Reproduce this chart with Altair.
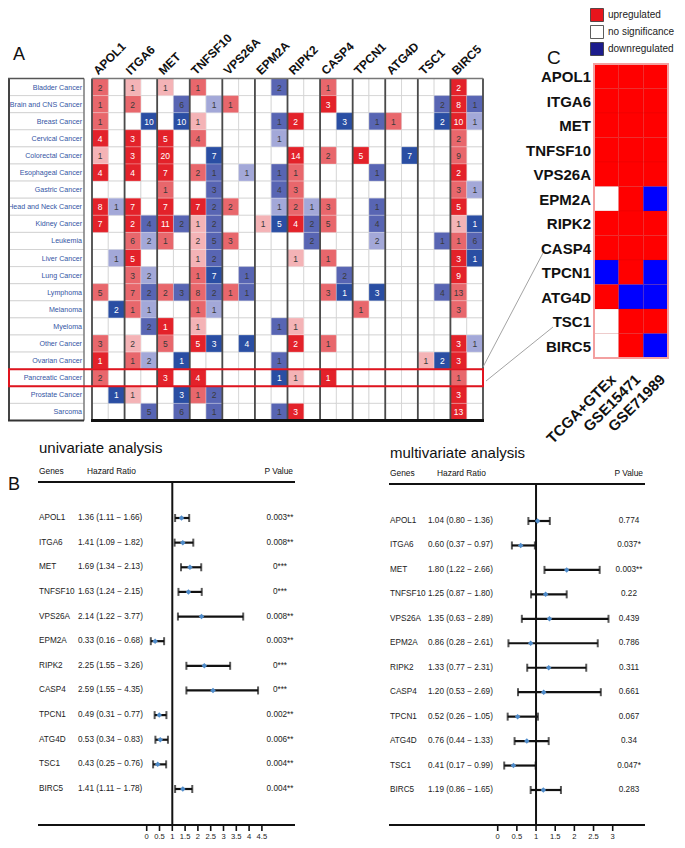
import altair as alt
import pandas as pd

# ---------------------------------------------------------------- data
cancer_types = ["Bladder Cancer", "Brain and CNS Cancer", "Breast Cancer", "Cervical Cancer",
                "Colorectal Cancer", "Esophageal Cancer", "Gastric Cancer", "Head and Neck Cancer",
                "Kidney Cancer", "Leukemia", "Liver Cancer", "Lung Cancer", "Lymphoma", "Melanoma",
                "Myeloma", "Other Cancer", "Ovarian Cancer", "Pancreatic Cancer", "Prostate Cancer",
                "Sarcoma"]
genes = ["APOL1", "ITGA6", "MET", "TNFSF10", "VPS26A", "EPM2A", "RIPK2", "CASP4",
         "TPCN1", "ATG4D", "TSC1", "BIRC5"]
highlight_cancer = "Pancreatic Cancer"

# Oncomine cells: gene, direction, number of analyses, rank shade (3 = top 1%, 2 = 5%, 1 = 10%)
oncomine_cells = {
    "Bladder Cancer": [("APOL1", "up", 2, 2), ("ITGA6", "up", 1, 1), ("MET", "up", 1, 1),
                       ("TNFSF10", "up", 1, 2), ("EPM2A", "down", 2, 2), ("CASP4", "up", 1, 2),
                       ("BIRC5", "up", 2, 3)],
    "Brain and CNS Cancer": [("APOL1", "up", 1, 2), ("ITGA6", "up", 2, 2), ("MET", "down", 6, 2),
                             ("TNFSF10", "down", 1, 1), ("VPS26A", "up", 1, 2), ("CASP4", "up", 3, 3),
                             ("TSC1", "down", 2, 2), ("BIRC5", "up", 8, 3), ("BIRC5", "down", 1, 2)],
    "Breast Cancer": [("APOL1", "up", 1, 2), ("ITGA6", "down", 10, 3), ("MET", "down", 10, 3),
                      ("TNFSF10", "up", 1, 1), ("EPM2A", "down", 1, 2), ("RIPK2", "up", 2, 3),
                      ("CASP4", "down", 3, 3), ("TPCN1", "down", 1, 2), ("ATG4D", "up", 1, 2),
                      ("TSC1", "down", 2, 3), ("BIRC5", "up", 10, 3), ("BIRC5", "down", 1, 1)],
    "Cervical Cancer": [("APOL1", "up", 4, 3), ("ITGA6", "up", 3, 3), ("MET", "up", 5, 3),
                        ("TNFSF10", "up", 4, 2), ("EPM2A", "down", 1, 1), ("BIRC5", "up", 2, 2)],
    "Colorectal Cancer": [("APOL1", "up", 1, 1), ("ITGA6", "up", 3, 3), ("MET", "up", 20, 3),
                          ("TNFSF10", "down", 7, 3), ("RIPK2", "up", 14, 3), ("CASP4", "up", 2, 2),
                          ("TPCN1", "up", 5, 3), ("ATG4D", "down", 7, 3), ("BIRC5", "up", 9, 2)],
    "Esophageal Cancer": [("APOL1", "up", 4, 3), ("ITGA6", "up", 4, 3), ("MET", "up", 7, 3),
                          ("TNFSF10", "up", 2, 2), ("TNFSF10", "down", 1, 2), ("VPS26A", "down", 1, 1),
                          ("EPM2A", "down", 1, 2), ("RIPK2", "up", 1, 2), ("TPCN1", "down", 1, 2),
                          ("BIRC5", "up", 2, 3)],
    "Gastric Cancer": [("MET", "up", 1, 2), ("TNFSF10", "down", 3, 2), ("EPM2A", "down", 4, 2),
                       ("RIPK2", "up", 3, 2), ("BIRC5", "up", 3, 2), ("BIRC5", "down", 1, 1)],
    "Head and Neck Cancer": [("APOL1", "up", 8, 3), ("APOL1", "down", 1, 1), ("ITGA6", "up", 7, 3),
                             ("MET", "up", 7, 3), ("TNFSF10", "up", 7, 3), ("TNFSF10", "down", 2, 2),
                             ("VPS26A", "up", 2, 2), ("EPM2A", "down", 1, 1), ("RIPK2", "up", 2, 2),
                             ("RIPK2", "down", 1, 1), ("CASP4", "up", 3, 2), ("TPCN1", "down", 1, 2),
                             ("BIRC5", "up", 5, 3)],
    "Kidney Cancer": [("APOL1", "up", 7, 3), ("ITGA6", "up", 2, 3), ("ITGA6", "down", 4, 2),
                      ("MET", "up", 11, 3), ("MET", "down", 2, 2), ("TNFSF10", "up", 1, 1),
                      ("TNFSF10", "down", 2, 2), ("EPM2A", "up", 1, 1), ("EPM2A", "down", 5, 3),
                      ("RIPK2", "up", 4, 3), ("RIPK2", "down", 2, 2), ("CASP4", "up", 5, 2),
                      ("TPCN1", "down", 4, 2), ("BIRC5", "up", 1, 1), ("BIRC5", "down", 1, 3)],
    "Leukemia": [("ITGA6", "up", 6, 2), ("ITGA6", "down", 2, 1), ("MET", "up", 1, 2),
                 ("TNFSF10", "up", 2, 1), ("TNFSF10", "down", 5, 2), ("VPS26A", "up", 3, 2),
                 ("RIPK2", "down", 2, 2), ("TPCN1", "down", 2, 1), ("TSC1", "down", 1, 2),
                 ("BIRC5", "up", 1, 2), ("BIRC5", "down", 6, 2)],
    "Liver Cancer": [("APOL1", "down", 1, 1), ("ITGA6", "up", 5, 3), ("TNFSF10", "up", 1, 1),
                     ("TNFSF10", "down", 2, 2), ("RIPK2", "up", 1, 1), ("CASP4", "up", 1, 2),
                     ("BIRC5", "up", 3, 3), ("BIRC5", "down", 1, 3)],
    "Lung Cancer": [("ITGA6", "up", 3, 2), ("ITGA6", "down", 2, 1), ("TNFSF10", "up", 1, 2),
                    ("TNFSF10", "down", 7, 3), ("VPS26A", "down", 1, 2), ("CASP4", "down", 2, 2),
                    ("BIRC5", "up", 9, 3)],
    "Lymphoma": [("APOL1", "up", 5, 2), ("ITGA6", "up", 7, 2), ("ITGA6", "down", 2, 2),
                 ("MET", "up", 2, 2), ("MET", "down", 3, 2), ("TNFSF10", "up", 8, 2),
                 ("TNFSF10", "down", 2, 2), ("VPS26A", "up", 1, 2), ("VPS26A", "down", 1, 2),
                 ("CASP4", "up", 3, 2), ("CASP4", "down", 1, 3), ("TPCN1", "down", 3, 3),
                 ("TSC1", "down", 4, 2), ("BIRC5", "up", 13, 2)],
    "Melanoma": [("APOL1", "down", 2, 3), ("ITGA6", "up", 1, 2), ("ITGA6", "down", 1, 1),
                 ("TNFSF10", "up", 1, 2), ("TNFSF10", "down", 1, 1), ("TPCN1", "up", 1, 2),
                 ("BIRC5", "up", 3, 2)],
    "Myeloma": [("ITGA6", "down", 2, 2), ("MET", "up", 1, 3), ("TNFSF10", "up", 1, 1),
                ("EPM2A", "down", 1, 2), ("RIPK2", "up", 1, 1)],
    "Other Cancer": [("APOL1", "up", 3, 2), ("ITGA6", "up", 2, 1), ("MET", "up", 5, 2),
                     ("TNFSF10", "up", 5, 3), ("TNFSF10", "down", 3, 3), ("VPS26A", "down", 4, 3),
                     ("RIPK2", "up", 2, 3), ("CASP4", "up", 1, 2), ("BIRC5", "up", 3, 3),
                     ("BIRC5", "down", 1, 1)],
    "Ovarian Cancer": [("APOL1", "up", 1, 3), ("ITGA6", "up", 1, 2), ("ITGA6", "down", 2, 1),
                       ("MET", "down", 1, 3), ("EPM2A", "down", 1, 2), ("TSC1", "up", 1, 1),
                       ("TSC1", "down", 2, 3), ("BIRC5", "up", 3, 3)],
    "Pancreatic Cancer": [("APOL1", "up", 2, 2), ("MET", "up", 3, 3), ("TNFSF10", "up", 4, 3),
                          ("EPM2A", "down", 1, 3), ("RIPK2", "up", 1, 1), ("CASP4", "up", 1, 3),
                          ("BIRC5", "up", 1, 2)],
    "Prostate Cancer": [("APOL1", "down", 1, 3), ("ITGA6", "up", 1, 1), ("MET", "down", 3, 3),
                        ("TNFSF10", "up", 1, 2), ("TNFSF10", "down", 2, 2), ("BIRC5", "up", 3, 3)],
    "Sarcoma": [("ITGA6", "down", 5, 2), ("MET", "down", 6, 2), ("TNFSF10", "down", 1, 2),
                ("EPM2A", "down", 1, 2), ("RIPK2", "up", 3, 3), ("BIRC5", "up", 13, 3)],
}

# Panel C: validation datasets
datasets = ["TCGA+GTEx", "GSE15471", "GSE71989"]
status_tcga = ["up", "up", "up", "up", "up", "ns", "up", "up", "down", "up", "ns", "ns"]
status_gse15471 = ["up", "up", "up", "up", "up", "up", "up", "up", "up", "down", "up", "up"]
status_gse71989 = ["up", "up", "up", "up", "up", "down", "up", "up", "down", "down", "up", "down"]
legend_items = ["upregulated", "no significance", "downregulated"]

# Panel B: Cox regression
uni_hr = [1.36, 1.41, 1.69, 1.63, 2.14, 0.33, 2.25, 2.59, 0.49, 0.53, 0.43, 1.41]
uni_lo = [1.11, 1.09, 1.34, 1.24, 1.22, 0.16, 1.55, 1.55, 0.31, 0.34, 0.25, 1.11]
uni_hi = [1.66, 1.82, 2.13, 2.15, 3.77, 0.68, 3.26, 4.35, 0.77, 0.83, 0.76, 1.78]
uni_p = ["0.003**", "0.008**", "0***", "0***", "0.008**", "0.003**", "0***", "0***",
         "0.002**", "0.006**", "0.004**", "0.004**"]
multi_hr = [1.04, 0.60, 1.80, 1.25, 1.35, 0.86, 1.33, 1.20, 0.52, 0.76, 0.41, 1.19]
multi_lo = [0.80, 0.37, 1.22, 0.87, 0.63, 0.28, 0.77, 0.53, 0.26, 0.44, 0.17, 0.86]
multi_hi = [1.36, 0.97, 2.66, 1.80, 2.89, 2.61, 2.31, 2.69, 1.05, 1.33, 0.99, 1.65]
multi_p = ["0.774", "0.037*", "0.003**", "0.22", "0.439", "0.786", "0.311", "0.661",
           "0.067", "0.34", "0.047*", "0.283"]
uni_ticks = ["0", "0.5", "1", "1.5", "2", "2.5", "3", "3.5", "4", "4.5"]
multi_ticks = ["0", "0.5", "1", "1.5", "2", "2.5", "3"]

# ---------------------------------------------------------------- frames
cell_rows = []
for ri, c in enumerate(cancer_types):
    for g, d, n, lv in oncomine_cells[c]:
        cell_rows.append({"cancer": c, "row": ri, "col": 2 * genes.index(g) + (0 if d == "up" else 1),
                          "n": n, "level": lv, "key": f"{d}{lv}"})
cells_df = pd.DataFrame(cell_rows)
grid_df = pd.DataFrame([{"row": r, "col": c} for r in range(len(cancer_types))
                        for c in range(2 * len(genes))])
cancer_df = pd.DataFrame({"cancer": cancer_types, "row": range(len(cancer_types))})
gene_df = pd.DataFrame({"gene": genes, "gi": range(len(genes))})
bound_df = pd.DataFrame({"b": [2 * i for i in range(len(genes) + 1)]})
statusC = pd.DataFrame(
    [{"gene": g, "dataset": ds, "status": st}
     for ds, col in zip(datasets, [status_tcga, status_gse15471, status_gse71989])
     for g, st in zip(genes, col)])
ds_df = pd.DataFrame({"dataset": datasets})
leg_df = pd.DataFrame({"item": legend_items})
one = pd.DataFrame({"k": [0]})


def forest_df(hr, lo, hi, p):
    return pd.DataFrame({"gene": genes, "hr": hr, "lo": lo, "hi": hi, "p": p,
                         "label": [f"{a:.2f} ({b:.2f} \u2212 {c:.2f})" for a, b, c in zip(hr, lo, hi)]})


uni_df = forest_df(uni_hr, uni_lo, uni_hi, uni_p)
multi_df = forest_df(multi_hr, multi_lo, multi_hi, multi_p)

# ---------------------------------------------------------------- style
FONT = "Liberation Sans, Arial, sans-serif"
W, H = 669, 832


def txt(s, x, y, size, align="left", baseline="alphabetic", font=FONT, weight="normal",
        color="#111111"):
    return alt.Chart(one).mark_text(text=s, fontSize=size, align=align, baseline=baseline,
                                    font=font, fontWeight=weight, color=color).encode(
        x=alt.value(x), y=alt.value(y))


def seg(x1, y1, x2, y2, color="#111111", w=1.0):
    return alt.Chart(one).mark_rule(color=color, strokeWidth=w).encode(
        x=alt.value(x1), y=alt.value(y1), x2=alt.value(x2), y2=alt.value(y2))


layers = []

# ---------------------------------------------------------------- panel A
A_L, A_R, A_TOP, A_BOT = 84, 475, 70.5, 412.5
XA = alt.Scale(domain=[0, 2 * len(genes)], range=[A_L, A_R], nice=False, zero=False)
YA = alt.Scale(domain=[0, len(cancer_types)], range=[A_TOP, A_BOT], nice=False, zero=False)

# row-label box
layers.append(alt.Chart(cancer_df).transform_calculate(row2="datum.row + 1").mark_rect(
    fill="white", stroke="#c9c9c9", strokeWidth=0.7).encode(
    x=alt.value(0), x2=alt.value(76),
    y=alt.Y("row:Q", scale=YA, axis=None), y2="row2:Q"))
layers.append(alt.Chart(cancer_df).transform_calculate(rc="datum.row + 0.5").mark_text(
    align="right", baseline="middle", font=FONT, fontSize=7.1, color="#3455a4", dy=0.5).encode(
    x=alt.value(74), y=alt.Y("rc:Q", scale=YA, axis=None), text="cancer:N"))
layers.append(seg(1, A_TOP, 1, A_BOT, "#444444", 2))
layers.append(seg(76, A_TOP, 76, A_BOT, "#666666", 1.2))
layers.append(seg(0, A_TOP, 76, A_TOP, "#555555", 1.5))
layers.append(seg(0, A_BOT, 76, A_BOT, "#333333", 2))

# grid
layers.append(alt.Chart(grid_df).transform_calculate(col2="datum.col + 1", row2="datum.row + 1")
              .mark_rect(fill="white", stroke="#cfcfcf", strokeWidth=0.7).encode(
    x=alt.X("col:Q", scale=XA, axis=None), x2="col2:Q",
    y=alt.Y("row:Q", scale=YA, axis=None), y2="row2:Q"))

shade_keys = ["up3", "up2", "up1", "down3", "down2", "down1"]
shade_cols = ["#e3222a", "#e8676c", "#f4b3b6", "#2a4ea3", "#5865b3", "#a3a8d8"]
layers.append(alt.Chart(cells_df).transform_calculate(col2="datum.col + 1", row2="datum.row + 1")
              .mark_rect(stroke="#ffffff", strokeWidth=0.5, strokeOpacity=0.5).encode(
    x=alt.X("col:Q", scale=XA, axis=None), x2="col2:Q",
    y=alt.Y("row:Q", scale=YA, axis=None), y2="row2:Q",
    fill=alt.Fill("key:N", scale=alt.Scale(domain=shade_keys, range=shade_cols), legend=None)))
layers.append(alt.Chart(cells_df).transform_calculate(cc="datum.col + 0.5", rc="datum.row + 0.5")
              .mark_text(font=FONT, fontSize=8.5, baseline="middle", dy=0.5).encode(
    x=alt.X("cc:Q", scale=XA, axis=None), y=alt.Y("rc:Q", scale=YA, axis=None),
    text="n:Q",
    color=alt.condition("datum.level == 3", alt.value("#ffffff"), alt.value("#3a3a3a"))))

# gene boundaries and frame
layers.append(alt.Chart(bound_df).mark_rule(color="#4a4a4a", strokeWidth=1.8).encode(
    x=alt.X("b:Q", scale=XA, axis=None), y=alt.value(A_TOP), y2=alt.value(A_BOT)))
layers.append(seg(A_L, A_TOP, A_R, A_TOP, "#777777", 1.5))
layers.append(seg(A_L - 1, A_BOT, A_R + 1, A_BOT, "#111111", 3))

# gene labels (rotated)
layers.append(alt.Chart(gene_df).transform_calculate(gc="2 * datum.gi + 1").mark_text(
    angle=315, align="left", baseline="alphabetic", font=FONT, fontWeight="bold", fontSize=12,
    dx=-5, dy=-9.2, color="#111111").encode(
    x=alt.X("gc:Q", scale=XA, axis=None), y=alt.value(A_TOP), text="gene:N"))

# highlight of the pancreatic row
layers.append(alt.Chart(cancer_df).transform_filter(alt.datum.cancer == highlight_cancer)
              .transform_calculate(row2="datum.row + 1")
              .mark_rect(fillOpacity=0, stroke="#e0141e", strokeWidth=2).encode(
    x=alt.value(1), x2=alt.value(A_R),
    y=alt.Y("row:Q", scale=YA, axis=None), y2="row2:Q"))

layers.append(txt("A", 5, 52, 18))

# ---------------------------------------------------------------- panel C
C_L, C_R, C_TOP, C_BOT = 586, 660, 56, 350
XC = alt.Scale(domain=datasets, range=[C_L, C_R], paddingInner=0, paddingOuter=0)
YC = alt.Scale(domain=genes, range=[C_TOP, C_BOT], paddingInner=0, paddingOuter=0)
layers.append(alt.Chart(statusC).mark_rect(stroke="#b00000", strokeWidth=0.4, strokeOpacity=0.35)
              .encode(
    x=alt.X("dataset:N", scale=XC, axis=None), y=alt.Y("gene:N", scale=YC, axis=None),
    fill=alt.Fill("status:N", scale=alt.Scale(domain=["up", "ns", "down"],
                                              range=["#ff0000", "#ffffff", "#0000ff"]),
                  legend=None)))
layers.append(alt.Chart(one).mark_rect(fillOpacity=0, stroke="#f3a0a0", strokeWidth=2).encode(
    x=alt.value(C_L), x2=alt.value(C_R), y=alt.value(C_TOP), y2=alt.value(C_BOT)))
layers.append(alt.Chart(gene_df).mark_text(align="right", baseline="middle", font=FONT,
                                           fontWeight="bold", fontSize=15, color="#111111",
                                           dy=1).encode(
    x=alt.value(583), y=alt.Y("gene:N", scale=YC, axis=None), text="gene:N"))
layers.append(alt.Chart(ds_df).mark_text(angle=315, align="right", baseline="top", font=FONT,
                                         fontWeight="bold", fontSize=15, dx=-8.5, dy=11.3,
                                         color="#111111").encode(
    x=alt.X("dataset:N", scale=XC, axis=None), y=alt.value(C_BOT), text="dataset:N"))
layers.append(txt("C", 539, 56, 19))

# legend
LY = alt.Scale(type="point", domain=legend_items, range=[7, 41], padding=0)
layers.append(alt.Chart(leg_df).mark_square(size=169, opacity=1, filled=True, stroke="#333333",
                                            strokeWidth=0.8).encode(
    x=alt.value(589), y=alt.Y("item:N", scale=LY, axis=None),
    fill=alt.Fill("item:N", scale=alt.Scale(domain=legend_items,
                                            range=["#e8141c", "#ffffff", "#1c1c8c"]), legend=None)))
layers.append(alt.Chart(leg_df).mark_text(align="left", baseline="middle", font=FONT,
                                          fontSize=10, color="#222222").encode(
    x=alt.value(600), y=alt.Y("item:N", scale=LY, axis=None), text="item:N"))

# connectors from the highlighted row to panel C
layers.append(seg(475, 359, 535, 245, "#999999", 0.9))
layers.append(seg(478, 373, 545, 319, "#999999", 0.9))


# ---------------------------------------------------------------- panel B
def forest(df, title, ticks, dom, xr, yr, left, right, hr_x, p_x, title_y, head_y, rule_y, axis_y):
    XS = alt.Scale(domain=dom, range=xr, nice=False, zero=False)
    YS = alt.Scale(type="point", domain=genes, range=yr, padding=0)
    tick_df = pd.DataFrame({"label": ticks, "v": [float(t) for t in ticks]})
    ref_df = pd.DataFrame({"v": [1.0]})
    fs = 8.2
    out = [
        txt(title, left + 1, title_y, 15),
        txt("Genes", left + 1, head_y, 8.4),
        txt("Hazard Ratio", hr_x + 9, head_y, 8.4),
        txt("P Value", right - 2, head_y, 8.4, align="right"),
        seg(left, rule_y, right, rule_y, "#111111", 2.2),
        seg(left, axis_y, right, axis_y, "#111111", 2.2),
        alt.Chart(ref_df).mark_rule(color="#111111", strokeWidth=2).encode(
            x=alt.X("v:Q", scale=XS, axis=None), y=alt.value(rule_y), y2=alt.value(axis_y)),
        alt.Chart(tick_df).mark_rule(color="#111111", strokeWidth=1.6).encode(
            x=alt.X("v:Q", scale=XS, axis=None), y=alt.value(axis_y + 1), y2=alt.value(axis_y + 6)),
        alt.Chart(tick_df).mark_text(font=FONT, fontSize=7.6, baseline="alphabetic",
                                     color="#222222").encode(
            x=alt.X("v:Q", scale=XS, axis=None), y=alt.value(axis_y + 14), text="label:N"),
        alt.Chart(df).mark_rule(color="#111111", strokeWidth=2.2).encode(
            x=alt.X("lo:Q", scale=XS, axis=None), x2="hi:Q",
            y=alt.Y("gene:N", scale=YS, axis=None)),
        alt.Chart(df).transform_fold(["lo", "hi"], as_=["end", "v"]).mark_tick(
            orient="vertical", size=8, thickness=2, color="#111111").encode(
            x=alt.X("v:Q", scale=XS, axis=None), y=alt.Y("gene:N", scale=YS, axis=None)),
        alt.Chart(df).mark_point(shape="diamond", filled=True, size=30, color="#4f8ccb",
                                 opacity=1).encode(
            x=alt.X("hr:Q", scale=XS, axis=None), y=alt.Y("gene:N", scale=YS, axis=None)),
        alt.Chart(df).mark_text(align="left", baseline="middle", font=FONT, fontSize=fs,
                                color="#222222").encode(
            x=alt.value(left + 1), y=alt.Y("gene:N", scale=YS, axis=None), text="gene:N"),
        alt.Chart(df).mark_text(align="left", baseline="middle", font=FONT, fontSize=fs,
                                color="#222222").encode(
            x=alt.value(hr_x), y=alt.Y("gene:N", scale=YS, axis=None), text="label:N"),
        alt.Chart(df).mark_text(align="center", baseline="middle", font=FONT, fontSize=fs,
                                color="#222222").encode(
            x=alt.value(p_x), y=alt.Y("gene:N", scale=YS, axis=None), text="p:N"),
    ]
    return out


layers += forest(uni_df, "univariate analysis", uni_ticks, [0, 4.5], [138.7, 253.9], [510, 781],
                 30, 287, 70, 272, 445, 466, 474, 817)
layers += forest(multi_df, "multivariate analysis", multi_ticks, [0, 3], [489.7, 604.7], [513, 782],
                 381, 637, 420, 621, 450, 468, 476, 817)
layers.append(txt("B", 0, 482, 18))

chart = alt.layer(*layers).resolve_scale(
    x="independent", y="independent", fill="independent", color="independent"
).properties(width=W, height=H, padding=0, autosize="none").configure_view(stroke=None)

chart.save("out.html", embed_options={"renderer": "svg", "actions": False})
